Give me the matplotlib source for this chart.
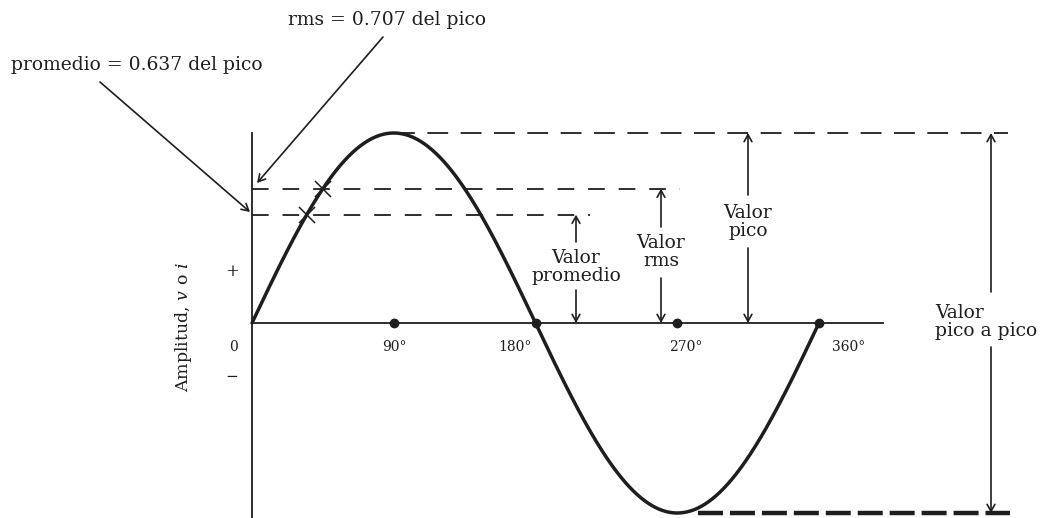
import numpy as np
import matplotlib
matplotlib.use("Agg")
import matplotlib.pyplot as plt

# values (amplitude in units of the peak)
angles = [0, 90, 180, 270, 360]
angle_labels = ['0', '90°', '180°', '270°', '360°']
peak_level = 1.0
rms_level = 0.707
avg_level = 0.57   # drawn a bit lower than 0.637 in the original
rms_text = 'rms = 0.707 del pico'
avg_text = 'promedio = 0.637 del pico'

ink = '#1e1e1e'
plt.rcParams['font.family'] = ['DejaVu Serif']
plt.rcParams['mathtext.fontset'] = 'custom'
plt.rcParams['mathtext.it'] = 'DejaVu Serif:italic'
plt.rcParams['mathtext.rm'] = 'DejaVu Serif'
plt.rcParams['lines.scale_dashes'] = False

W, H = 1043, 518
X0, Y0 = 252, 323      # pixel position of (0 deg, 0)
SX, SY = 1.575, 190.0  # px per degree, px per unit amplitude


def px(x, y):  # pixel (from top-left) -> data coords, for text/arrow layout only
    return ((x - X0) / SX, (Y0 - y) / SY)


fig = plt.figure(figsize=(W / 100, H / 100), dpi=100)
ax = fig.add_axes([0, 0, 1, 1])
ax.set_xlim(-X0 / SX, (W - X0) / SX)
ax.set_ylim((Y0 - H) / SY, Y0 / SY)
ax.axis('off')

# axes
ax.plot([0, 0], [peak_level, (Y0 - H) / SY - 0.1], color=ink, lw=1.3)
ax.plot([0, px(883, 0)[0]], [0, 0], color=ink, lw=1.3)

# sine wave
th = np.linspace(0, 360, 721)
ax.plot(th, peak_level * np.sin(np.radians(th)), color=ink, lw=2.5, solid_capstyle='round')

# dots on the axis
ax.plot(angles[1:], [0] * 4, 'o', color=ink, ms=6, mec=ink)

# dashed level lines
ax.plot([90, px(1008, 0)[0]], [peak_level] * 2, color=ink, lw=1.3, dashes=(15, 9))
ax.plot([0, px(680, 0)[0]], [rms_level] * 2, color=ink, lw=1.3, dashes=(12, 10))
ax.plot([0, px(590, 0)[0]], [avg_level] * 2, color=ink, lw=1.3, dashes=(12, 10))
ax.plot([px(698, 0)[0], px(1010, 0)[0]], [-peak_level] * 2, color=ink, lw=3.2, dashes=(18, 5))

# crosses where the levels meet the curve
for lv in (rms_level, avg_level):
    ax.plot(np.degrees(np.arcsin(lv)), lv, marker='x', color=ink, ms=11, mew=1.1)

arrow = dict(arrowstyle='->,head_length=0.5,head_width=0.28', lw=1.2,
             color=ink, shrinkA=0, shrinkB=0)


def arr(p_from, p_to):
    ax.annotate('', xy=p_to, xytext=p_from, arrowprops=arrow)


# double arrows with labels
big = 13.5
# (x px, level, top of label gap px, bottom of label gap px, label, label y px)
specs = [
    (576, avg_level, 242, 290, 'Valor\npromedio', 267),
    (661, rms_level, 227, 278, 'Valor\nrms', 252),
    (748, peak_level, 195, 248, 'Valor\npico', 222),
]
for xp, lv, gtop, gbot, lab, ly in specs:
    xd = px(xp, 0)[0]
    arr((xd, px(0, gtop)[1]), (xd, lv))
    arr((xd, px(0, gbot)[1]), (xd, 0))
    ax.text(*px(xp, ly), lab, ha='center', va='center', fontsize=big,
            linespacing=1.05, color=ink)

xd = px(991, 0)[0]
arr((xd, px(0, 292)[1]), (xd, peak_level))
arr((xd, px(0, 347)[1]), (xd, -peak_level))
ax.text(*px(935, 322), 'Valor\npico a pico', ha='left', va='center', fontsize=big,
        linespacing=1.0, color=ink)

# callouts at the top
ax.text(*px(387, 20), rms_text, ha='center', va='center', fontsize=big, color=ink)
ax.text(*px(137, 65), avg_text, ha='center', va='center', fontsize=big, color=ink)
arr(px(383, 37), px(257, 183))
arr(px(100, 82), px(250, 212))

# angle labels
label_x = [233, 394, 515, 686, 849]
for xp, lab in zip(label_x, angle_labels):
    ax.text(*px(xp, 347), lab, ha='center', va='center', fontsize=10, color=ink)
ax.text(*px(232, 271), '+', ha='center', va='center', fontsize=12, color=ink)
ax.text(*px(232, 377), '−', ha='center', va='center', fontsize=11, color=ink)

ax.text(*px(183, 327), r'Amplitud, $v$ o $i$', rotation=90, ha='center', va='center',
        fontsize=12.5, color=ink)

fig.savefig('out.png', dpi=100, facecolor='white')
